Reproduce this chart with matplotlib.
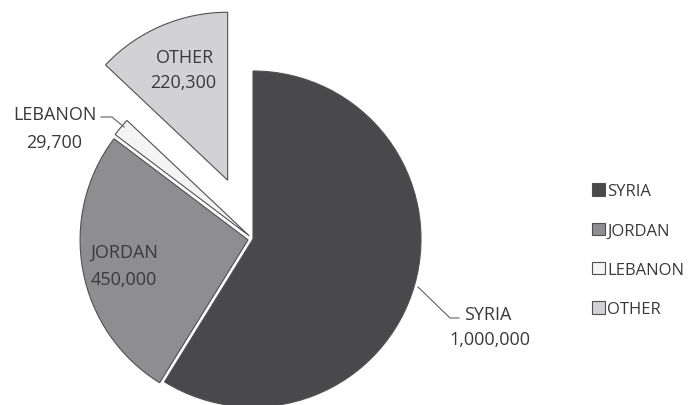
import matplotlib.pyplot as plt

countries = ['SYRIA', 'JORDAN', 'LEBANON', 'OTHER']
refugees = [1000000, 450000, 29700, 220300]
value_labels = ['1,000,000', '450,000', '29,700', '220,300']
colors = ['#49494b', '#8e8e90', '#f4f4f4', '#d2d2d4']
explode = [0, 5, 5, 64]  # pixels, axes are in pixel units

plt.rcParams['font.family'] = ['Open Sans', 'DejaVu Sans']
txt = '#3a3a3a'

fig = plt.figure(figsize=(6.91, 4.06), dpi=100)
ax = fig.add_axes([0, 0, 1, 1])

wedges, _ = ax.pie(refugees, colors=colors, explode=explode, startangle=90,
                   counterclock=False, radius=168, center=(253, 166),
                   wedgeprops=dict(edgecolor='#505050', linewidth=0.8))
ax.set_xlim(0, 691)
ax.set_ylim(0, 406)
ax.set_aspect('equal')
ax.axis('off')

fs = 13
# inside labels
ax.text(124, 153, countries[1], ha='center', va='center', fontsize=fs, color=txt)
ax.text(124, 126, value_labels[1], ha='center', va='center', fontsize=fs, color=txt)
ax.text(185, 348, countries[3], ha='center', va='center', fontsize=fs, color=txt)
ax.text(183, 323, value_labels[3], ha='center', va='center', fontsize=fs, color=txt)

# outside labels with leader lines
ax.text(488, 91, countries[0], ha='center', va='center', fontsize=fs, color=txt)
ax.text(490, 66, value_labels[0], ha='center', va='center', fontsize=fs, color=txt)
ax.plot([418, 450, 459], [118, 87, 87], color='#606060', lw=0.8)

ax.text(55, 291, countries[2], ha='center', va='center', fontsize=fs, color=txt)
ax.text(54, 263, value_labels[2], ha='center', va='center', fontsize=fs, color=txt)
ax.plot([101, 112, 124], [288, 288, 278], color='#606060', lw=0.8)

leg = ax.legend(wedges, countries, loc='upper left',
                bbox_to_anchor=(584 / 691, 1 - 176 / 406), frameon=False,
                fontsize=12, handlelength=0.75, handleheight=0.75,
                handletextpad=0.15, labelspacing=1.4, borderpad=0)
for t in leg.get_texts():
    t.set_color(txt)

fig.savefig('out.png', dpi=100)
